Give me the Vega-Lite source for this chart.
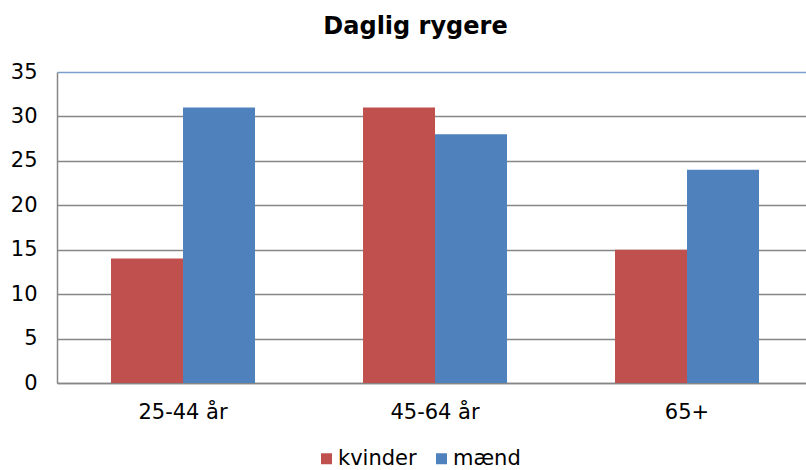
{
  "$schema": "https://vega.github.io/schema/vega-lite/v6.json",
  "width": 749,
  "height": 311,
  "autosize": {"type": "none"},
  "padding": {"left": 57, "top": 72, "right": 0, "bottom": 87},
  "background": "white",
  "title": {
    "text": "Daglig rygere",
    "font": "DejaVu Sans",
    "fontSize": 24,
    "fontWeight": "bold",
    "color": "#000000",
    "anchor": "middle",
    "frame": "group",
    "offset": 22,
    "dx": -16
  },
  "data": {
    "values": [
      {"alder": "25-44 år", "køn": "kvinder", "pct": 14},
      {"alder": "25-44 år", "køn": "mænd", "pct": 31},
      {"alder": "45-64 år", "køn": "kvinder", "pct": 31},
      {"alder": "45-64 år", "køn": "mænd", "pct": 28},
      {"alder": "65+", "køn": "kvinder", "pct": 15},
      {"alder": "65+", "køn": "mænd", "pct": 24}
    ]
  },
  "mark": {"type": "bar"},
  "encoding": {
    "x": {
      "field": "alder",
      "type": "nominal",
      "sort": null,
      "scale": {"range": [0, 756], "paddingInner": 0.4286, "paddingOuter": 0.2143},
      "axis": {
        "title": null,
        "labelAngle": 0,
        "labelFont": "DejaVu Sans",
        "labelFontSize": 21,
        "labelColor": "#000000",
        "labelPadding": 18,
        "ticks": false,
        "domainColor": "#868686",
        "domainWidth": 1.5
      }
    },
    "xOffset": {"field": "køn", "type": "nominal", "sort": ["kvinder", "mænd"], "scale": {"paddingInner": 0, "paddingOuter": 0}},
    "y": {
      "field": "pct",
      "type": "quantitative",
      "scale": {"domain": [0, 35], "nice": false},
      "axis": {
        "title": null,
        "values": [0, 5, 10, 15, 20, 25, 30, 35],
        "labelFont": "DejaVu Sans",
        "labelFontSize": 21,
        "labelColor": "#000000",
        "labelPadding": 20,
        "ticks": false,
        "grid": true,
        "gridColor": {"condition": {"test": "datum.value === 35", "value": "#7BA0CD"}, "value": "#868686"},
        "gridWidth": 1.5,
        "domainColor": "#868686",
        "domainWidth": 1.5
      }
    },
    "color": {
      "field": "køn",
      "type": "nominal",
      "scale": {"domain": ["kvinder", "mænd"], "range": ["#C0504D", "#4F81BD"]},
      "legend": {
        "title": null,
        "orient": "none",
        "direction": "horizontal",
        "legendX": 259,
        "legendY": 376,
        "symbolType": "square",
        "symbolSize": 121,
        "symbolStrokeWidth": 0,
        "labelFont": "DejaVu Sans",
        "labelFontSize": 21,
        "labelColor": "#000000",
        "labelOffset": 1,
        "columnPadding": 14
      }
    }
  },
  "config": {"view": {"stroke": null}}
}
